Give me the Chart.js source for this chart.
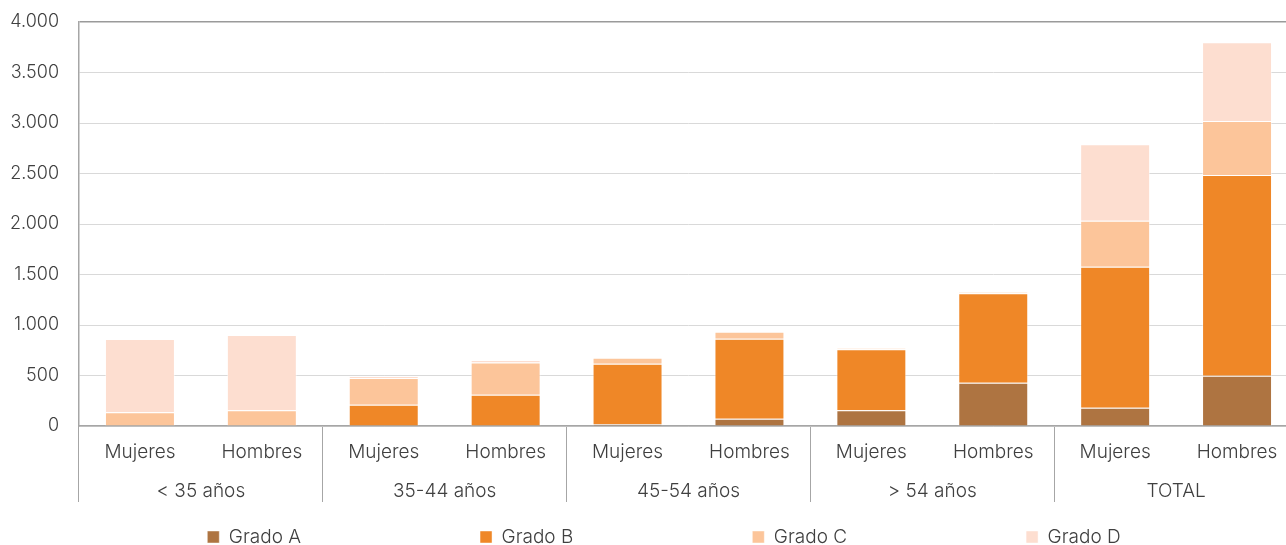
<!DOCTYPE html>
<html>
<head>
<meta charset="utf-8">
<script src="https://cdn.jsdelivr.net/npm/chart.js@4.4.1/dist/chart.umd.min.js"></script>
<style>
  html, body { margin: 0; padding: 0; background: #ffffff; overflow: hidden; }
  #wrap { width: 1298px; height: 545px; position: relative; }
</style>
</head>
<body>
<div id="wrap"><canvas id="chart"></canvas></div>
<script>
// ---- data ----
const categories = ["Mujeres", "Hombres", "Mujeres", "Hombres", "Mujeres", "Hombres", "Mujeres", "Hombres", "Mujeres", "Hombres"];
const groups = ["< 35 años", "35-44 años", "45-54 años", "> 54 años", "TOTAL"];
const seriesNames = ["Grado A", "Grado B", "Grado C", "Grado D"];
const gradoA = [0, 0, 0, 0, 20, 72, 155, 429, 181, 498];
const gradoB = [0, 0, 211, 310, 597, 792, 604, 885, 1396, 1987];
const gradoC = [137, 156, 265, 318, 59, 70, 10, 12, 456, 535];
const gradoD = [724, 746, 20, 25, 0, 0, 0, 0, 756, 779];
const yTickValues = [0, 500, 1000, 1500, 2000, 2500, 3000, 3500, 4000];

// ---- styling ----
const seriesColors = ["#AE7441", "#EF8727", "#FCC59A", "#FDDED0"];
const TEXT = "#404040";
const AXIS = "#a6a6a6";
const GRID = "#d9d9d9";
const FONT = "Inter, 'Open Sans', sans-serif";
const FS = 19;
const FS_Y = 18;
const LEGEND_PAD = 179;
const LEGEND_SHIFT = 15;

Chart.defaults.font.family = FONT;
Chart.defaults.font.weight = 300;
Chart.defaults.color = TEXT;

function fmt(v) {
  return String(v).replace(/\B(?=(\d{3})+(?!\d))/g, ".");
}

const series = [gradoA, gradoB, gradoC, gradoD];
const datasets = series.map((vals, i) => ({
  label: seriesNames[i],
  data: vals,
  backgroundColor: seriesColors[i],
  borderColor: "rgba(255,255,255,0.45)",
  borderWidth: 1,
  categoryPercentage: 1.0,
  barPercentage: 0.574,
  xAxisID: "x",
  yAxisID: "y"
}));

// Spread the legend items evenly along one row (as in the reference)
const legendPlacement = {
  id: "legendPlacement",
  beforeLayout(chart) {
    const lg = chart.legend;
    if (!lg || lg._placed) return;
    lg._placed = true;
    const origFit = lg.fit;
    lg.fit = function (...args) {
      const mw = this.maxWidth;
      this.maxWidth = mw + 2000;
      origFit.apply(this, args);
      this.maxWidth = mw;
      this.width = mw;
    };
    const origDraw = lg.draw;
    lg.draw = function (...args) {
      const saved = { top: this.top, left: this.left, right: this.right };
      const centerY = chart.height - 8;
      this.top = centerY - FS / 2 - this.options.labels.padding;
      this.left += LEGEND_SHIFT - 1000;
      this.right += LEGEND_SHIFT + 1000;
      origDraw.apply(this, args);
      this.top = saved.top; this.left = saved.left; this.right = saved.right;
    };
  }
};

new Chart(document.getElementById("chart"), {
  type: "bar",
  data: { labels: categories, datasets },
  options: {
    responsive: true,
    maintainAspectRatio: false,
    animation: false,
    devicePixelRatio: 1,
    layout: { padding: { top: 22, left: 0, right: 0, bottom: 0 } },
    plugins: {
      tooltip: { enabled: false },
      legend: {
        position: "bottom",
        align: "center",
        maxHeight: 29,
        labels: {
          boxWidth: 12,
          boxHeight: 12,
          padding: LEGEND_PAD,
          color: TEXT,
          font: { size: FS, weight: 300 }
        }
      }
    },
    scales: {
      x: {
        type: "category",
        stacked: true,
        offset: true,
        grid: {
          offset: true,
          drawOnChartArea: false,
          drawTicks: true,
          tickLength: 76,
          tickWidth: 1,
          tickColor: (ctx) => (ctx.index !== undefined && ctx.index % 2 === 0) ? AXIS : "rgba(0,0,0,0)"
        },
        border: { display: true, color: AXIS, width: 1.5 },
        ticks: {
          autoSkip: false,
          maxRotation: 0,
          padding: -61,
          color: TEXT,
          font: { size: FS, weight: 300 }
        },
        afterFit: (s) => { s.height = 40; s.paddingLeft = 0; s.paddingRight = 0; }
      },
      x2: {
        type: "category",
        position: "bottom",
        labels: groups,
        offset: true,
        grid: { display: false, drawTicks: false },
        border: { display: false },
        ticks: {
          autoSkip: false,
          maxRotation: 0,
          padding: 14,
          color: TEXT,
          font: { size: FS, weight: 300 }
        },
        afterFit: (s) => { s.height = 50; s.paddingLeft = 0; s.paddingRight = 0; }
      },
      y: {
        stacked: true,
        min: 0,
        max: 4000,
        afterBuildTicks: (s) => { s.ticks = yTickValues.map(v => ({ value: v })); },
        grid: {
          drawTicks: false,
          color: (ctx) => (ctx.tick && ctx.tick.value === 4000) ? "#9a9a9a" : GRID,
          lineWidth: (ctx) => (ctx.tick && ctx.tick.value === 4000) ? 1.5 : 1
        },
        border: { display: true, color: AXIS, width: 1.5 },
        ticks: {
          padding: 20,
          color: TEXT,
          font: { size: FS_Y, weight: 300 },
          callback: (v) => fmt(v)
        },
        afterFit: (s) => { s.width = 79; s.paddingTop = 0; s.paddingBottom = 0; }
      }
    }
  },
  plugins: [legendPlacement]
});
</script>
</body>
</html>
